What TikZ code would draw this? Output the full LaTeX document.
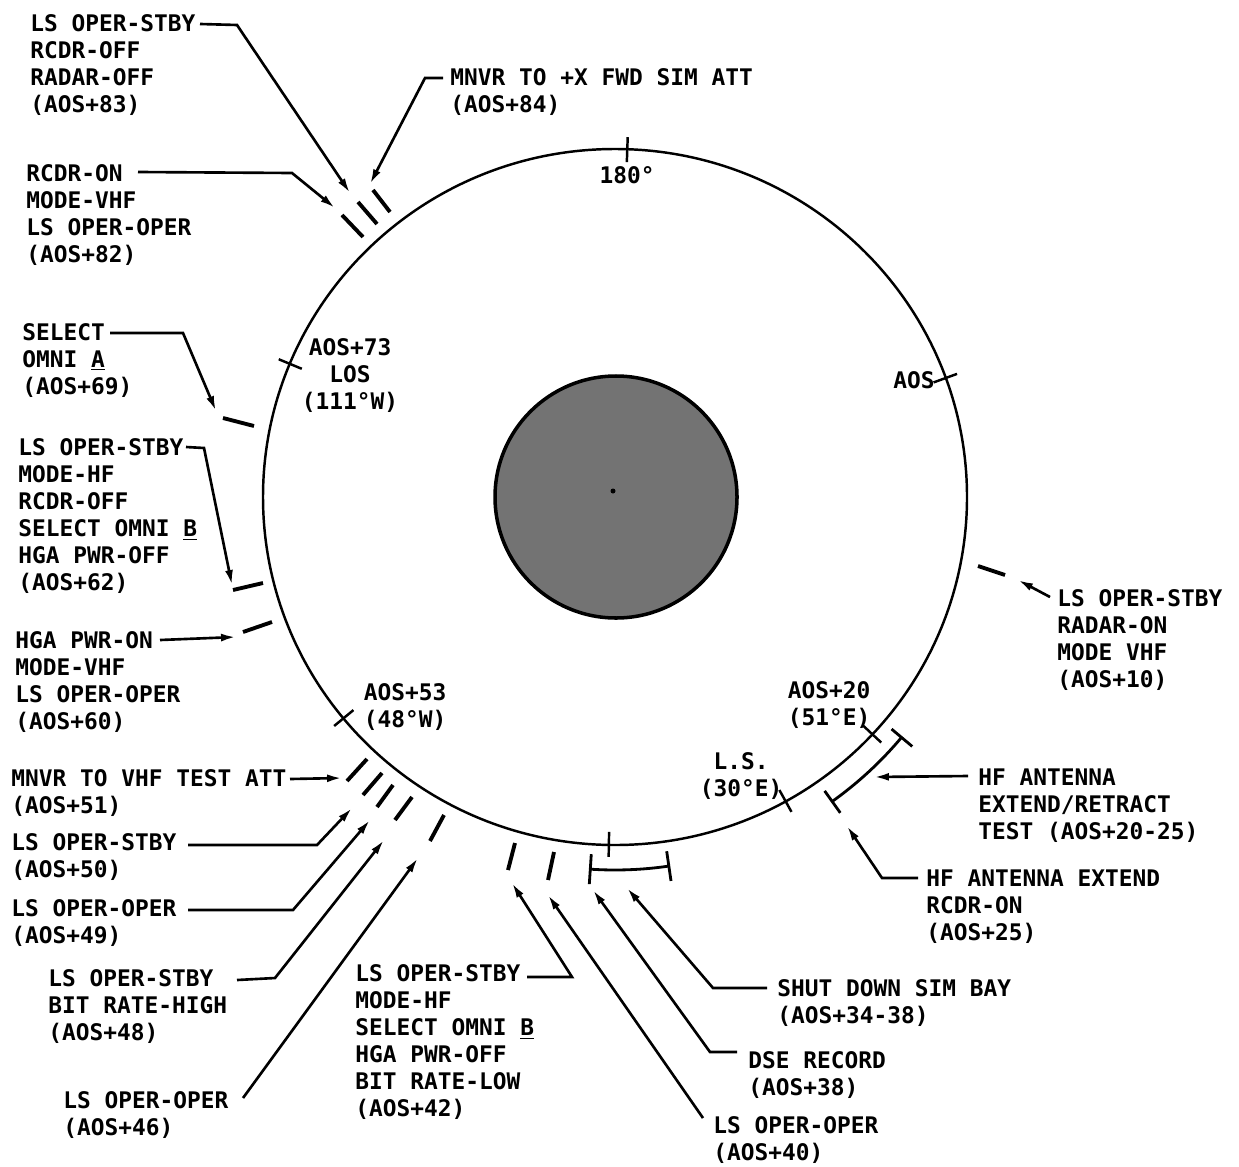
\documentclass[tikz,border=0pt]{standalone}
\usepackage{fontspec}
\newfontfamily\lerfont{DejaVu Sans Mono}
\usetikzlibrary{arrows.meta,calc}
\begin{document}
\begin{tikzpicture}[x=0.02cm,y=-0.02cm,
  lbl/.style={anchor=north west,inner sep=0pt,align=left,font={\lerfont\bfseries\fontsize{13pt}{15.4pt}\selectfont}},
  clbl/.style={anchor=north,inner sep=0pt,align=center,font={\lerfont\bfseries\fontsize{13pt}{15.4pt}\selectfont}},
  leader/.style={line width=1.5pt,-{Latex[length=8.5pt,width=4.5pt]}},
  evline/.style={line width=2.2pt},
  tickline/.style={line width=1.4pt},
  orbit/.style={line width=1.4pt}]
\useasboundingbox (0,0) rectangle (1239,1166);

% planet and orbit
\filldraw[fill=black!55,line width=2pt] (616,497) circle [radius=121];
\fill (613,491) circle [radius=2.5];
\draw[orbit] (615,497) ellipse [x radius=352, y radius=348];

\begin{scope}[shift={(615,497)},yscale=-1]
  % ticks on orbit
  \foreach \a in {88,20,157.5,219.5,-43,-61,-91}
    \draw[tickline] (\a:339 and 335) -- (\a:364 and 360);
  % HF antenna bracket
  \draw[line width=1.6pt] (-40:374) arc[start angle=-40,end angle=-54.5,radius=374];
  \draw[line width=1.6pt] (-40:361) -- (-40:388);
  \draw[line width=1.6pt] (-54.5:361) -- (-54.5:388);
  % sim bay bracket
  \draw[line width=1.6pt] (-93.8:373) arc[start angle=-93.8,end angle=-81.7,radius=373];
  \draw[line width=1.6pt] (-93.8:358) -- (-93.8:388);
  \draw[line width=1.6pt] (-81.7:358) -- (-81.7:388);
\end{scope}

% event marks
\draw[evline] (342,215) -- (363,237);
\draw[evline] (358,202) -- (377,224);
\draw[evline] (373,190) -- (390,212);
\draw[evline] (223,418) -- (254,426);
\draw[evline] (233,590) -- (263,583);
\draw[evline] (243,632) -- (272,622);
\draw[evline] (347,781) -- (367,759);
\draw[evline] (363,795) -- (382,773);
\draw[evline] (377,807) -- (393,785);
\draw[evline] (395,820) -- (412,797);
\draw[evline] (430,841) -- (444,815);
\draw[evline] (508,870) -- (515,843);
\draw[evline] (548,880) -- (554,852);
\draw[evline] (978,566) -- (1005,575);

% labels on the orbit
\node[clbl] (l180) at (627,166) {180°};
\node[lbl,anchor=north east] (laos) at (935,371) {AOS};
\node[clbl] (l73) at (350,338) {AOS+73\\LOS\\(111°W)};
\node[clbl] (l53) at (405,683) {AOS+53\\(48°W)};
\node[clbl] (l20) at (829,681) {AOS+20\\(51°E)};
\node[clbl] (lls) at (741,752) {L.S.\\(30°E)};

% event labels
\node[lbl] (t83) at (30,14) {LS OPER-STBY\\RCDR-OFF\\RADAR-OFF\\(AOS+83)};
\node[lbl] (t84) at (450,68) {MNVR TO +X FWD SIM ATT\\(AOS+84)};
\node[lbl] (t82) at (26,164) {RCDR-ON\\MODE-VHF\\LS OPER-OPER\\(AOS+82)};
\node[lbl] (t69) at (22,323) {SELECT\\OMNI \underline{A}\\(AOS+69)};
\node[lbl] (t62) at (18,438) {LS OPER-STBY\\MODE-HF\\RCDR-OFF\\SELECT OMNI \underline{B}\\HGA PWR-OFF\\(AOS+62)};
\node[lbl] (t60) at (15,631) {HGA PWR-ON\\MODE-VHF\\LS OPER-OPER\\(AOS+60)};
\node[lbl] (t51) at (11,769) {MNVR TO VHF TEST ATT\\(AOS+51)};
\node[lbl] (t50) at (11,833) {LS OPER-STBY\\(AOS+50)};
\node[lbl] (t49) at (11,899) {LS OPER-OPER\\(AOS+49)};
\node[lbl] (t48) at (48,969) {LS OPER-STBY\\BIT RATE-HIGH\\(AOS+48)};
\node[lbl] (t46) at (63,1091) {LS OPER-OPER\\(AOS+46)};
\node[lbl] (t42) at (355,964) {LS OPER-STBY\\MODE-HF\\SELECT OMNI \underline{B}\\HGA PWR-OFF\\BIT RATE-LOW\\(AOS+42)};
\node[lbl] (t40) at (713,1116) {LS OPER-OPER\\(AOS+40)};
\node[lbl] (t38) at (748,1051) {DSE RECORD\\(AOS+38)};
\node[lbl] (t34) at (777,979) {SHUT DOWN SIM BAY\\(AOS+34-38)};
\node[lbl] (t10) at (1057,589) {LS OPER-STBY\\RADAR-ON\\MODE VHF\\(AOS+10)};
\node[lbl] (t2025) at (978,768) {HF ANTENNA\\EXTEND/RETRACT\\TEST (AOS+20-25)};
\node[lbl] (t25) at (926,869) {HF ANTENNA EXTEND\\RCDR-ON\\(AOS+25)};

% leader coordinates
\coordinate (s83) at (200,24); \coordinate (b83) at (237,25); \coordinate (e83) at (350,193);
\coordinate (s84) at (443,78); \coordinate (b84) at (425,78); \coordinate (e84) at (370,184);
\coordinate (s82) at (138,172); \coordinate (b82) at (292,173); \coordinate (e82) at (335,208);
\coordinate (s69) at (110,333); \coordinate (b69) at (183,333); \coordinate (e69) at (216,411);
\coordinate (s62) at (186,447); \coordinate (b62) at (204,448); \coordinate (e62) at (232,585);
\coordinate (s60) at (160,640); \coordinate (e60) at (236,637);
\coordinate (s51) at (290,779); \coordinate (e51) at (342,778);
\coordinate (s50) at (188,845); \coordinate (b50) at (317,845); \coordinate (e50) at (352,808);
\coordinate (s49) at (188,910); \coordinate (b49) at (293,910); \coordinate (e49) at (370,820);
\coordinate (s48) at (237,980); \coordinate (b48) at (275,978); \coordinate (e48) at (384,840);
\coordinate (s46) at (243,1098); \coordinate (e46) at (418,858);
\coordinate (s42) at (527,977); \coordinate (b42) at (572,977); \coordinate (e42) at (512,883);
\coordinate (s40) at (703,1118); \coordinate (e40) at (548,895);
\coordinate (s38) at (737,1052); \coordinate (b38) at (710,1052); \coordinate (e38) at (593,890);
\coordinate (s34) at (767,988); \coordinate (b34) at (713,988); \coordinate (e34) at (627,888);
\coordinate (s10) at (1050,597); \coordinate (e10) at (1018,580);
\coordinate (s2025) at (968,776); \coordinate (e2025) at (874,777);
\coordinate (s25) at (918,878); \coordinate (b25) at (882,878); \coordinate (e25) at (847,826);

% leaders
\draw[leader] (s83) -- (b83) -- (e83);
\draw[leader] (s84) -- (b84) -- (e84);
\draw[leader] (s82) -- (b82) -- (e82);
\draw[leader] (s69) -- (b69) -- (e69);
\draw[leader] (s62) -- (b62) -- (e62);
\draw[leader] (s60) -- (e60);
\draw[leader] (s51) -- (e51);
\draw[leader] (s50) -- (b50) -- (e50);
\draw[leader] (s49) -- (b49) -- (e49);
\draw[leader] (s48) -- (b48) -- (e48);
\draw[leader] (s46) -- (e46);
\draw[leader] (s42) -- (b42) -- (e42);
\draw[leader] (s40) -- (e40);
\draw[leader] (s38) -- (b38) -- (e38);
\draw[leader] (s34) -- (b34) -- (e34);
\draw[leader] (s10) -- (e10);
\draw[leader] (s2025) -- (e2025);
\draw[leader] (s25) -- (b25) -- (e25);
\end{tikzpicture}
\end{document}
